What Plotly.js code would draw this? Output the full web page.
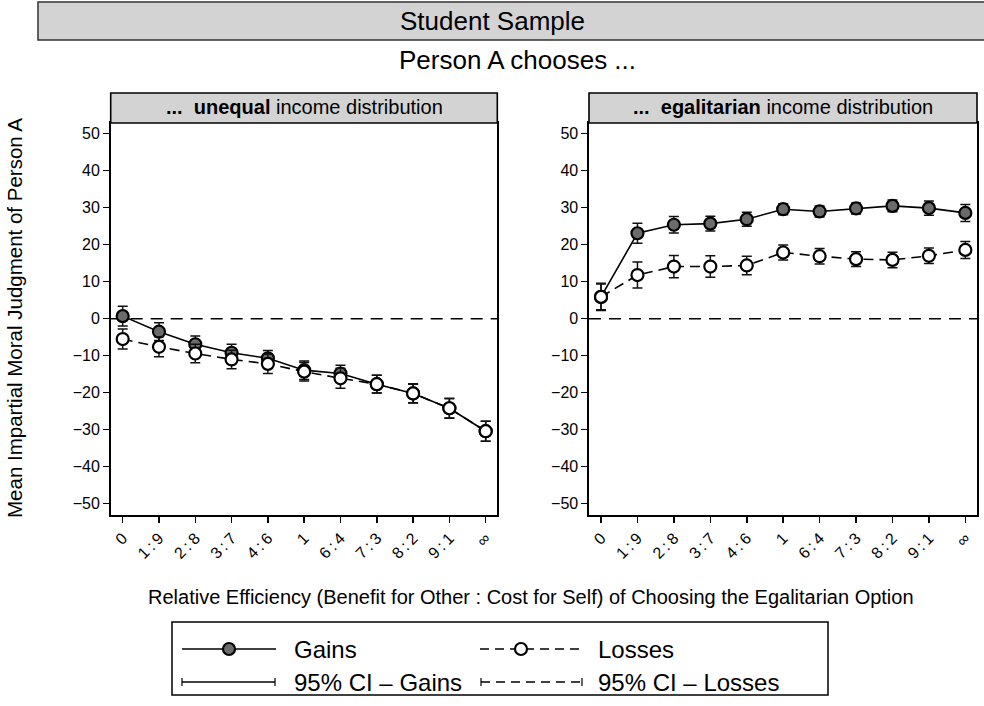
<!DOCTYPE html>
<html>
<head>
<meta charset="utf-8">
<script src="https://cdn.plot.ly/plotly-3.0.1.min.js"></script>
<style>
  html, body { margin: 0; padding: 0; background: #fff; }
  #chart { width: 984px; height: 706px; }
</style>
</head>
<body>
<div id="chart"></div>
<script>
// Efficiency ratios (benefit for other : cost for self)
const ratioLabels = ["0", "1\u2009:\u20099", "2\u2009:\u20098", "3\u2009:\u20097", "4\u2009:\u20096", "1",
                     "6\u2009:\u20094", "7\u2009:\u20093", "8\u2009:\u20092", "9\u2009:\u20091", "\u221e"];
const ratioIndex = [0, 1, 2, 3, 4, 5, 6, 7, 8, 9, 10];

// Person A chooses the unequal distribution
const unequalGains    = [0.7, -3.5, -6.9, -9.2, -10.7, -13.9, -14.8, -17.7, -20.2, -24.2, -30.4];
const unequalGainsCI  = [2.7, 2.4, 2.2, 2.3, 2.1, 2.5, 2.2, 2.4, 2.6, 2.7, 2.7];
const unequalLosses   = [-5.5, -7.6, -9.4, -11.0, -12.2, -14.3, -16.1, -17.7, -20.2, -24.2, -30.4];
const unequalLossesCI = [2.7, 2.7, 2.5, 2.5, 2.6, 2.5, 2.7, 2.4, 2.5, 2.6, 2.7];

// Person A chooses the egalitarian distribution
const egalGains    = [5.9, 23.1, 25.4, 25.7, 26.9, 29.6, 29.0, 29.8, 30.5, 29.9, 28.6];
const egalGainsCI  = [3.5, 2.7, 2.2, 2.0, 1.9, 1.5, 1.5, 1.5, 1.6, 1.9, 2.3];
const egalLosses   = [5.9, 11.8, 14.1, 14.1, 14.4, 17.9, 16.9, 16.1, 15.9, 17.0, 18.6];
const egalLossesCI = [3.7, 3.5, 3.0, 2.9, 2.5, 2.0, 2.1, 2.0, 2.1, 2.1, 2.3];

const yTicks = [-50, -40, -30, -20, -10, 0, 10, 20, 30, 40, 50];

const FONT = "'Liberation Sans', Arial, Helvetica, sans-serif";
const W = 984, H = 706;
const px = v => v / W;            // horizontal pixel -> paper
const py = v => (H - v) / H;      // vertical pixel (from top) -> paper

const gainsFill = '#6b6b6b';

function seriesTrace(xa, ya, values, ci, isGains) {
  return {
    type: 'scatter', mode: 'lines+markers',
    x: ratioIndex, y: values, xaxis: xa, yaxis: ya,
    line: { color: '#000', width: 1.6, dash: isGains ? 'solid' : '10px,6px' },
    marker: { symbol: 'circle', size: 12, color: isGains ? gainsFill : '#fff',
              line: { color: '#000', width: 2.2 } },
    error_y: { type: 'data', array: ci, visible: true, color: '#111', thickness: 1.5, width: 5 },
    showlegend: false, hoverinfo: 'x+y'
  };
}

const data = [
  seriesTrace('x', 'y', unequalGains, unequalGainsCI, true),
  seriesTrace('x', 'y', unequalLosses, unequalLossesCI, false),
  seriesTrace('x2', 'y2', egalGains, egalGainsCI, true),
  seriesTrace('x2', 'y2', egalLosses, egalLossesCI, false)
];

const yRange = [-53.05, 52.9];
const xRange = [-0.33, 10.32];
const plotTop = 123, plotBottom = 515;
const leftPanel = [110.7, 497.3], rightPanel = [589, 977];

function xAxis(dom, anchor) {
  return {
    domain: [px(dom[0]), px(dom[1])], anchor: anchor, range: xRange,
    tickmode: 'array', tickvals: ratioIndex, ticktext: ratioLabels, tickangle: -45,
    ticks: 'outside', ticklen: 6, tickwidth: 1.5, tickcolor: '#000',
    showline: true, linecolor: '#000', linewidth: 1.6, mirror: true,
    showgrid: false, zeroline: false,
    tickfont: { family: FONT, size: 16, color: '#000' }
  };
}
function yAxis(anchor) {
  return {
    domain: [py(plotBottom), py(plotTop)], anchor: anchor, range: yRange,
    tickmode: 'array', tickvals: yTicks,
    ticks: 'outside', ticklen: 6, tickwidth: 1.5, tickcolor: '#000',
    showline: true, linecolor: '#000', linewidth: 1.6, mirror: true,
    showgrid: false, zeroline: false,
    tickfont: { family: FONT, size: 16, color: '#000' }
  };
}

const shapes = [];
const annotations = [];

// Top banner
shapes.push({ type: 'rect', xref: 'paper', yref: 'paper', x0: px(38), x1: px(990), y0: py(40), y1: py(2),
              fillcolor: '#d3d3d3', line: { color: '#333', width: 1.5 }, layer: 'above' });
annotations.push({ xref: 'paper', yref: 'paper', x: px(492), y: py(21), text: 'Student Sample',
                   showarrow: false, xanchor: 'center', yanchor: 'middle',
                   font: { family: FONT, size: 26, color: '#000' } });
annotations.push({ xref: 'paper', yref: 'paper', x: px(517), y: py(60), text: 'Person A chooses ...',
                   showarrow: false, xanchor: 'center', yanchor: 'middle',
                   font: { family: FONT, size: 26, color: '#000' } });

// Panel headers
const headers = [
  { dom: leftPanel, text: '<b>...  unequal</b> income distribution' },
  { dom: rightPanel, text: '<b>...  egalitarian</b> income distribution' }
];
headers.forEach(h => {
  shapes.push({ type: 'rect', xref: 'paper', yref: 'paper', x0: px(h.dom[0]), x1: px(h.dom[1]),
                y0: py(123), y1: py(93), fillcolor: '#d3d3d3', line: { color: '#000', width: 1.6 }, layer: 'above' });
  annotations.push({ xref: 'paper', yref: 'paper', x: px((h.dom[0] + h.dom[1]) / 2), y: py(107),
                     text: h.text, showarrow: false, xanchor: 'center', yanchor: 'middle',
                     font: { family: FONT, size: 20, color: '#000' } });
});

// Reference line at zero in each panel
[['x', 'y'], ['x2', 'y2']].forEach(([xa, ya]) => {
  shapes.push({ type: 'line', xref: xa + ' domain', yref: ya, x0: 0, x1: 1, y0: 0, y1: 0,
                line: { color: '#000', width: 1.6, dash: '12px,8px' }, layer: 'below' });
});

// Axis titles
annotations.push({ xref: 'paper', yref: 'paper', x: px(15), y: py(318), text: 'Mean Impartial Moral Judgment of Person A',
                   textangle: -90, showarrow: false, xanchor: 'center', yanchor: 'middle',
                   font: { family: FONT, size: 20.5, color: '#000' } });
annotations.push({ xref: 'paper', yref: 'paper', x: px(531), y: py(597),
                   text: 'Relative Efficiency (Benefit for Other : Cost for Self) of Choosing the Egalitarian Option',
                   showarrow: false, xanchor: 'center', yanchor: 'middle',
                   font: { family: FONT, size: 20, color: '#000' } });

// Key
shapes.push({ type: 'rect', xref: 'paper', yref: 'paper', x0: px(172), x1: px(828), y0: py(695), y1: py(622),
              fillcolor: 'rgba(0,0,0,0)', line: { color: '#000', width: 1.5 } });
const row1 = 649, row2 = 682;
const keyLine = (x0, x1, y, dash) => shapes.push({ type: 'line', xref: 'paper', yref: 'paper',
  x0: px(x0), x1: px(x1), y0: py(y), y1: py(y), line: { color: '#000', width: 1.6, dash: dash } });
const keyCap = (x, y) => shapes.push({ type: 'line', xref: 'paper', yref: 'paper',
  x0: px(x), x1: px(x), y0: py(y - 4), y1: py(y + 4), line: { color: '#000', width: 1.2 } });
const keyDot = (x, y, fill) => shapes.push({ type: 'circle', xref: 'paper', yref: 'paper',
  x0: px(x - 6), x1: px(x + 6), y0: py(y + 6), y1: py(y - 6), fillcolor: fill, line: { color: '#000', width: 2.2 } });
const keyText = (x, y, t) => annotations.push({ xref: 'paper', yref: 'paper', x: px(x), y: py(y), text: t,
  showarrow: false, xanchor: 'left', yanchor: 'middle', font: { family: FONT, size: 24, color: '#000' } });

keyLine(182, 276, row1, 'solid'); keyDot(229, row1, gainsFill); keyText(292, row1, 'Gains');
keyLine(480, 582, row1, '9px,6px'); keyDot(521, row1, '#fff'); keyText(596, row1, 'Losses');
keyLine(182, 275, row2, 'solid'); keyCap(182, row2); keyCap(275, row2); keyText(292, row2, '95% CI \u2013 Gains');
keyLine(481, 582, row2, '9px,6px'); keyCap(481, row2); keyCap(582, row2); keyText(596, row2, '95% CI \u2013 Losses');

const layout = {
  width: W, height: H,
  margin: { l: 0, r: 0, t: 0, b: 0 },
  paper_bgcolor: '#fff', plot_bgcolor: '#fff',
  showlegend: false,
  font: { family: FONT, color: '#000' },
  xaxis: xAxis(leftPanel, 'y'),
  yaxis: yAxis('x'),
  xaxis2: xAxis(rightPanel, 'y2'),
  yaxis2: yAxis('x2'),
  shapes: shapes,
  annotations: annotations
};

Plotly.newPlot('chart', data, layout, { staticPlot: true, displayModeBar: false });
</script>
</body>
</html>
